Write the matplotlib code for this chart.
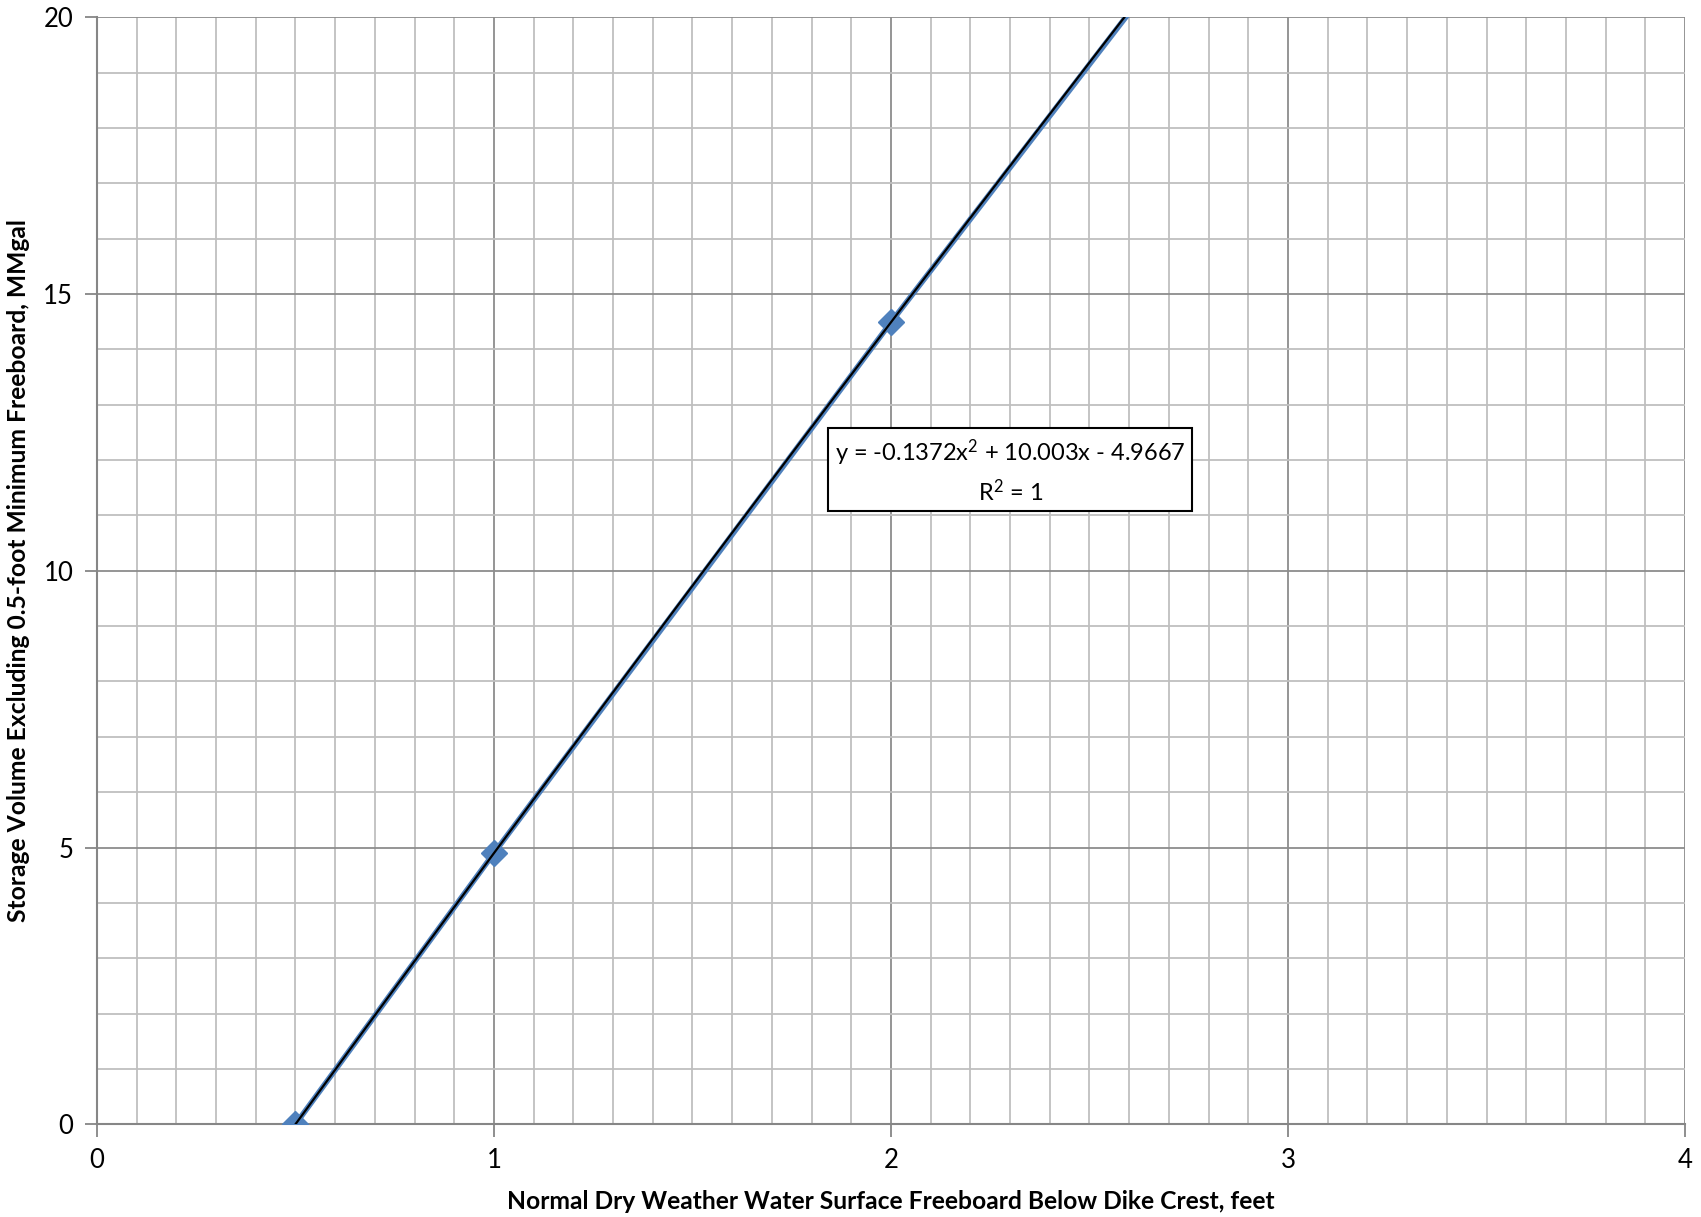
import numpy as np
import matplotlib
matplotlib.use("Agg")
import matplotlib.pyplot as plt
from matplotlib.ticker import MultipleLocator

plt.rcParams['font.family'] = ['Lato', 'DejaVu Sans']
plt.rcParams['mathtext.fontset'] = 'custom'
plt.rcParams['mathtext.rm'] = 'Lato'
plt.rcParams['mathtext.it'] = 'Lato'
plt.rcParams['mathtext.bf'] = 'Lato:bold'

# Freeboard (ft) vs storage volume (MMgal)
freeboard_ft = [0.5, 1.0, 2.0, 3.0]
storage_mmgal = [0.0, 4.9, 14.49, 23.81]

# Polynomial trendline coefficients (order 2)
coef_a, coef_b, coef_c = -0.1372, 10.003, -4.9667
trend_label = "y = -0.1372x$\\mathregular{^{2}}$ + 10.003x - 4.9667\nR$\\mathregular{^{2}}$ = 1"

x_ticks = [0, 1, 2, 3, 4]
y_ticks = [0, 5, 10, 15, 20]

fig = plt.figure(figsize=(17.01, 12.17), dpi=100)
ax = fig.add_axes([0.0570, 0.0762, 0.9336, 0.9096])

ax.set_xlim(0, 4)
ax.set_ylim(0, 20)
ax.set_xticks(x_ticks)
ax.set_yticks(y_ticks)
ax.xaxis.set_minor_locator(MultipleLocator(0.1))
ax.yaxis.set_minor_locator(MultipleLocator(1))

ax.grid(which='minor', color='#BFBFBF', linewidth=1.3, zorder=0)
ax.grid(which='major', color='#8C8C8C', linewidth=1.3, zorder=0)
ax.set_axisbelow(True)

for side in ['top', 'right']:
    ax.spines[side].set_visible(False)
for side in ['left', 'bottom']:
    ax.spines[side].set_color('#868686')
    ax.spines[side].set_linewidth(1.5)

ax.tick_params(which='major', length=9, width=1.3, color='#868686',
               labelsize=18.5, labelcolor='black')
ax.tick_params(axis='x', which='major', pad=8)
ax.tick_params(axis='y', which='major', pad=8)
ax.tick_params(which='minor', length=0)

ax.plot(freeboard_ft, storage_mmgal, color='#4F81BD', linewidth=4,
        marker='D', markersize=13, markerfacecolor='#4F81BD',
        markeredgecolor='#4F81BD', zorder=3, clip_on=True)

xt = np.linspace(min(freeboard_ft), max(freeboard_ft), 200)
yt = coef_a * xt**2 + coef_b * xt + coef_c
ax.plot(xt, yt, color='black', linewidth=1.6, zorder=4)

ax.text(2.30, 11.80, trend_label, ha='center', va='center', fontsize=17,
        linespacing=1.45, zorder=5,
        bbox=dict(boxstyle='square,pad=0.27', facecolor='white',
                  edgecolor='black', linewidth=1.5))

ax.set_xlabel("Normal Dry Weather Water Surface Freeboard Below Dike Crest, feet",
              fontsize=17.7, fontweight='bold', labelpad=12)
ax.set_ylabel("Storage Volume Excluding 0.5-foot Minimum Freeboard, MMgal",
              fontsize=17.7, fontweight='bold')
ax.yaxis.set_label_coords(-0.042, 0.5)

fig.savefig("out.png", dpi=100, facecolor='white')
